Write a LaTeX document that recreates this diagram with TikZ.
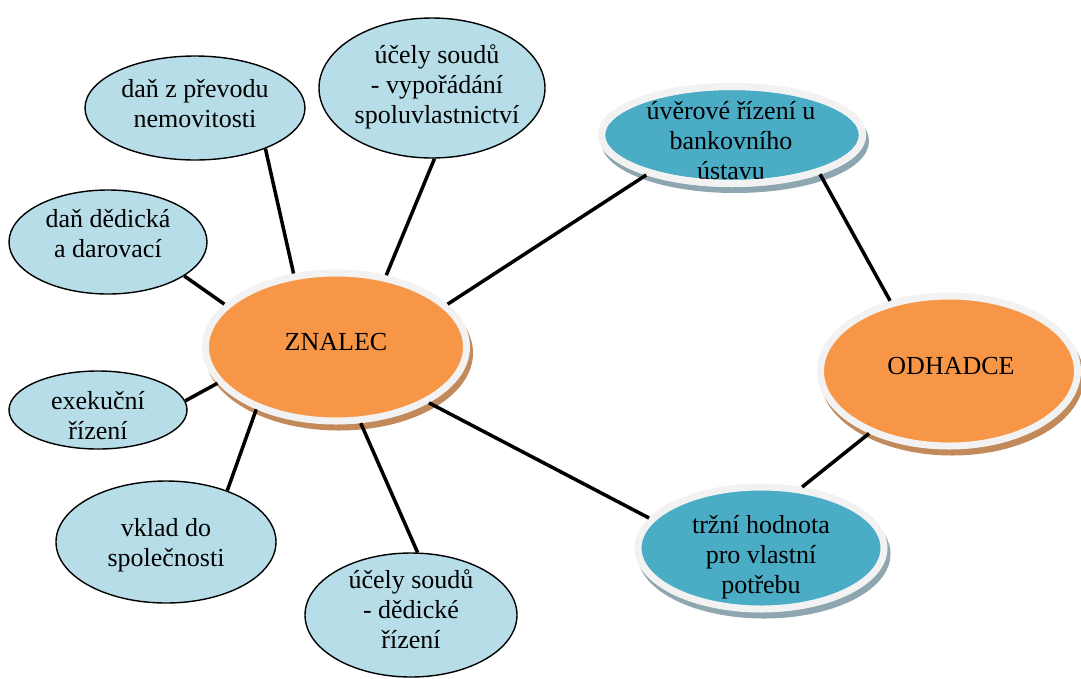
\documentclass[tikz,border=0pt]{standalone}
\usepackage{fontspec}
\setmainfont{Liberation Serif}
\usetikzlibrary{shapes.geometric,shadows}
\definecolor{hubfill}{HTML}{F79646}
\definecolor{midfill}{HTML}{4BACC6}
\definecolor{leaffill}{HTML}{B7DEE8}
\definecolor{ringcol}{HTML}{F2F2F2}
\definecolor{brshadow}{HTML}{C2895A}
\definecolor{blshadow}{HTML}{8EA6B0}
\tikzset{
  leaf/.style={ellipse, draw=black, line width=1.4pt, fill=leaffill, inner sep=0pt},
  ringed/.style={ellipse, draw=ringcol, line width=7pt, inner sep=0pt},
  hub/.style={ringed, fill=hubfill,
    general shadow={shadow xshift=3pt, shadow yshift=-6pt, fill=brshadow, draw=brshadow, line width=7pt}},
  mid/.style={ringed, fill=midfill,
    general shadow={shadow xshift=3pt, shadow yshift=-6pt, fill=blshadow, draw=blshadow, line width=7pt}},
  ringover/.style={draw=ringcol, line width=7pt},
  txt/.style={align=center, inner sep=0pt, font=\fontsize{26}{30}\selectfont},
  conn/.style={line width=3.5pt, black}
}
\begin{document}
\begin{tikzpicture}[x=1pt,y=-1pt]
\useasboundingbox (0,0) rectangle (1081,678);
% leaves
\node[leaf, minimum width=220pt, minimum height=104pt] (p) at (195,108) {};
\node[txt] (pt) at (195,104) {daň z převodu\\nemovitosti};
\node[leaf, minimum width=226pt, minimum height=140pt] (v) at (432,88) {};
\node[txt] (vt) at (437,87) {účely soudů\\- vypořádání\\spoluvlastnictví};
\node[leaf, minimum width=198pt, minimum height=104pt] (d) at (108,242) {};
\node[txt] (dt) at (108,234) {daň dědická\\a darovací};
\node[leaf, minimum width=178pt, minimum height=78pt] (e) at (98,410) {};
\node[txt] (et) at (98,416) {exekuční\\řízení};
\node[leaf, minimum width=220pt, minimum height=122pt] (k) at (166,542) {};
\node[txt] (kt) at (166,545) {vklad do\\společnosti};
\node[leaf, minimum width=212pt, minimum height=124pt] (r) at (411,615) {};
\node[txt] (rt) at (411,609) {účely soudů\\- dědické\\řízení};
% hubs
\node[hub, minimum width=261pt, minimum height=148pt] (z) at (336,347) {};
\node[txt] (zt) at (336,342) {ZNALEC};
\node[hub, minimum width=257pt, minimum height=150pt] (o) at (949,371) {};
\node[txt] (ot) at (951,366) {ODHADCE};
\node[mid, minimum width=261pt, minimum height=97pt] (u) at (732,135) {};
\node[txt] (ut) at (731,141) {úvěrové řízení u\\bankovního\\ústavu};
\draw[ringover] (u.center) ellipse [x radius=130.5pt, y radius=48.5pt];
\node[mid, minimum width=246pt, minimum height=122pt] (t) at (761,548) {};
\node[txt] (tt) at (761,557) {tržní hodnota\\pro vlastní\\potřebu};
% connectors
\draw[conn] (p.-30) -- (z.120);
\draw[conn] (v.-88) -- (z.55);
\draw[conn] (d.-24) -- (z.159);
\draw[conn] (e.6) -- (z.197);
\draw[conn] (k.40) -- (z.218);
\draw[conn] (r.84) -- (z.-72);
\draw[conn] (z.21) -- (u.205);
\draw[conn] (u.-24) -- (o.130);
\draw[conn] (z.-31) -- (t.165);
\draw[conn] (t.56) -- (o.218);
\end{tikzpicture}
\end{document}
